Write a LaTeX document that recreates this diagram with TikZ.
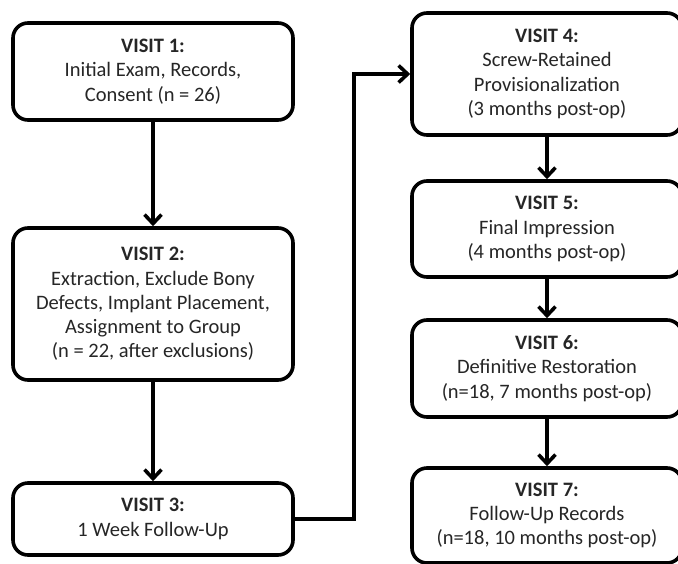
\documentclass[tikz,border=0pt]{standalone}
\usepackage{fontspec}
\setmainfont{Carlito}
\usetikzlibrary{arrows.meta}
\definecolor{txt}{HTML}{262626}
\begin{document}
\begin{tikzpicture}[x=1pt,y=-1pt,
  box/.style={draw=black,line width=3.6pt,rounded corners=15pt,fill=white,
    text=txt,align=center,font=\fontsize{20.5}{24.3}\selectfont,inner sep=0pt},
  arr/.style={line width=3.6pt,-{Straight Barb[length=9pt,width=17pt,line width=3.6pt]}}]
\useasboundingbox (0,0) rectangle (678,563);
\node[box,minimum width=280pt,minimum height=97pt] (b1) at (153,71.5)
  {\textbf{VISIT 1:}\\Initial Exam, Records,\\Consent (n = 26)};
\node[box,minimum width=280pt,minimum height=152pt] (b2) at (153,304)
  {\textbf{VISIT 2:}\\Extraction, Exclude Bony\\Defects, Implant Placement,\\Assignment to Group\\(n = 22, after exclusions)};
\node[box,minimum width=280pt,minimum height=72pt] (b3) at (153,519)
  {\textbf{VISIT 3:}\\1 Week Follow-Up};
\node[box,minimum width=270pt,minimum height=122pt] (b4) at (547,74)
  {\textbf{VISIT 4:}\\Screw-Retained\\Provisionalization\\(3 months post-op)};
\node[box,minimum width=270pt,minimum height=96pt] (b5) at (547,229)
  {\textbf{VISIT 5:}\\Final Impression\\(4 months post-op)};
\node[box,minimum width=270pt,minimum height=97pt] (b6) at (547,368.5)
  {\textbf{VISIT 6:}\\Definitive Restoration\\(n=18, 7 months post-op)};
\node[box,minimum width=270pt,minimum height=95pt] (b7) at (547,515.5)
  {\textbf{VISIT 7:}\\Follow-Up Records\\(n=18, 10 months post-op)};
\draw[arr] (b1.south) -- (b2.north);
\draw[arr] (b2.south) -- (b3.north);
\draw[arr] (b4.south) -- (b5.north);
\draw[arr] (b5.south) -- (b6.north);
\draw[arr] (b6.south) -- (b7.north);
\draw[arr] (b3.east) -- ++(59,0) |- (b4.west);
\end{tikzpicture}
\end{document}
